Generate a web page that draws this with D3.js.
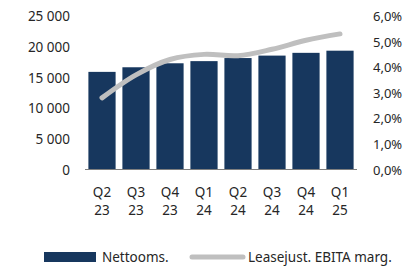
<!DOCTYPE html>
<html>
<head>
<meta charset="utf-8">
<script src="https://cdn.jsdelivr.net/npm/d3@7"></script>
<style>
  body { margin: 0; background: #fff; }
  text { font-family: "Noto Sans", "Open Sans", sans-serif; fill: #262626; }
</style>
</head>
<body>
<script>
var quarters = ['Q2', 'Q3', 'Q4', 'Q1', 'Q2', 'Q3', 'Q4', 'Q1'];
var years = ['23', '23', '23', '24', '24', '24', '24', '25'];
var sales = [15900, 16650, 17300, 17650, 18150, 18550, 19000, 19350];
var margin = [2.8, 3.7, 4.3, 4.5, 4.45, 4.7, 5.05, 5.3];
var leftTicks = [0, 5000, 10000, 15000, 20000, 25000];
var rightTicks = [0, 1, 2, 3, 4, 5, 6];
var legendNames = ['Nettooms.', 'Leasejust. EBITA marg.'];

var W = 403, H = 266;
var x0 = 85, x1 = 357, yTop = 16, yBase = 169.5;
var barColor = '#17375e', lineColor = '#bfbfbf';

var svg = d3.select('body').append('svg')
  .attr('width', W)
  .attr('height', H);

var idx = d3.range(sales.length);

var x = d3.scaleBand()
  .domain(idx)
  .range([x0, x1])
  .paddingInner(0.2)
  .paddingOuter(0.1);

var yL = d3.scaleLinear().domain([0, 25000]).range([yBase, yTop]);
var yR = d3.scaleLinear().domain([0, 6]).range([yBase, yTop]);

var fmtL = function(d) { return d3.format(',')(d).replace(',', ' '); };
var fmtR = function(d) { return d3.format('.1f')(d).replace('.', ',') + '%'; };

// left axis
var left = svg.append('g')
  .attr('transform', 'translate(' + x0 + ',0)')
  .call(d3.axisLeft(yL).tickValues(leftTicks).tickFormat(fmtL).tickSize(0).tickPadding(15));
left.select('.domain').remove();
left.selectAll('text').style('font-size', '13.5px').attr('dy', '0.35em');

// right axis
var right = svg.append('g')
  .attr('transform', 'translate(' + x1 + ',0)')
  .call(d3.axisRight(yR).tickValues(rightTicks).tickFormat(fmtR).tickSize(0).tickPadding(16));
right.select('.domain').remove();
right.selectAll('text').style('font-size', '13px').attr('dy', '0.35em');

// bars
svg.append('g').selectAll('rect')
  .data(sales)
  .enter()
  .append('rect')
  .attr('x', function(d, i) { return x(i); })
  .attr('y', function(d) { return yL(d); })
  .attr('width', x.bandwidth())
  .attr('height', function(d) { return yBase - yL(d); })
  .attr('fill', barColor);

// baseline
svg.append('line')
  .attr('x1', x0).attr('x2', x1)
  .attr('y1', yBase).attr('y2', yBase)
  .attr('stroke', '#7f7f7f')
  .attr('stroke-width', 1);

// margin line
var line = d3.line()
  .x(function(d, i) { return x(i) + x.bandwidth() / 2; })
  .y(function(d) { return yR(d); })
  .curve(d3.curveCatmullRom.alpha(0.5));

svg.append('path')
  .datum(margin)
  .attr('d', line)
  .attr('fill', 'none')
  .attr('stroke', lineColor)
  .attr('stroke-width', 5)
  .attr('stroke-linecap', 'round')
  .attr('stroke-linejoin', 'round');

// category labels, two rows
var cats = svg.append('g').selectAll('text')
  .data(idx)
  .enter()
  .append('text')
  .attr('text-anchor', 'middle')
  .style('font-size', '13.5px');
cats.append('tspan')
  .attr('x', function(i) { return x(i) + x.bandwidth() / 2; })
  .attr('y', 197)
  .text(function(i) { return quarters[i]; });
cats.append('tspan')
  .attr('x', function(i) { return x(i) + x.bandwidth() / 2; })
  .attr('y', 215)
  .text(function(i) { return years[i]; });

// legend
var leg = svg.append('g');
leg.append('rect')
  .attr('x', 44).attr('y', 252)
  .attr('width', 52).attr('height', 10)
  .attr('fill', barColor);
leg.append('text')
  .attr('x', 102).attr('y', 257).attr('dy', '0.35em')
  .style('font-size', '13.5px')
  .text(legendNames[0]);
leg.append('line')
  .attr('x1', 192).attr('x2', 243)
  .attr('y1', 257).attr('y2', 257)
  .attr('stroke', lineColor)
  .attr('stroke-width', 5)
  .attr('stroke-linecap', 'round');
leg.append('text')
  .attr('x', 248).attr('y', 257).attr('dy', '0.35em')
  .style('font-size', '13.5px')
  .text(legendNames[1]);
</script>
</body>
</html>
